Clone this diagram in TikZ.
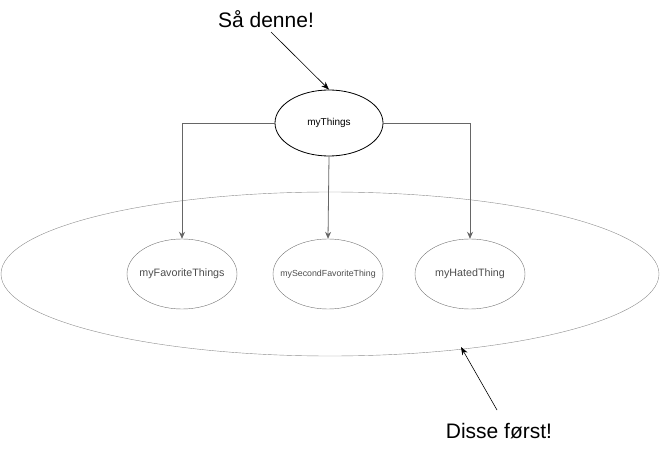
\documentclass[tikz,border=0pt]{standalone}
\usepackage{fontspec}
\setmainfont{Liberation Sans}
\usetikzlibrary{shapes.geometric,arrows.meta}
\begin{document}
\begin{tikzpicture}[x=1pt,y=-1pt,
  ell/.style={ellipse,draw,inner sep=0pt},
  childell/.style={ell,draw=black!55,minimum width=110pt,minimum height=70pt},
  childtxt/.style={text=black!70,font=\fontsize{10.7}{13}\selectfont},
  conn/.style={draw=black!60,line width=0.8pt,-{Stealth[length=7pt,width=6pt]}},
  note/.style={line width=0.6pt,-{Stealth[length=8pt,width=6pt]}},
  lbl/.style={font=\fontsize{21}{24}\selectfont}]
\useasboundingbox (0,0) rectangle (661,473);
\node[ell,draw=black!45,minimum width=658pt,minimum height=164pt] (big) at (330,274) {};
\node[ell,line width=0.8pt,minimum width=108pt,minimum height=66pt,font=\fontsize{10}{12}\selectfont] (top) at (329,123) {myThings};
\node[childell] (c1) at (182,274) {};
\node[childtxt] (c1t) at (c1.center) {myFavoriteThings};
\node[childell] (c2) at (328,274) {};
\node[childtxt,font=\fontsize{8.8}{10}\selectfont] (c2t) at (c2.center) {mySecondFavoriteThing};
\node[childell] (c3) at (470,274) {};
\node[childtxt] (c3t) at (c3.center) {myHatedThing};
\draw[conn] (top.west) -| (c1.north);
\draw[conn] (top.south) -- (c2.north);
\draw[conn] (top.east) -| (c3.north);
\node[lbl] (t1) at (266,19) {Så denne!};
\coordinate (t1s) at (271,32);
\draw[note] (t1s) -- (top.north);
\node[lbl] (t2) at (499,431) {Disse først!};
\coordinate (t2s) at (497,410);
\coordinate (t2e) at (461,347);
\draw[note] (t2s) -- (t2e);
\end{tikzpicture}
\end{document}
